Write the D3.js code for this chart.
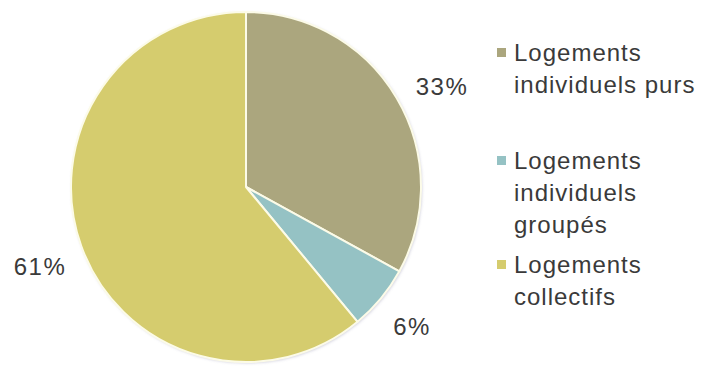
<!DOCTYPE html>
<html>
<head>
<meta charset="utf-8">
<script src="https://cdn.jsdelivr.net/npm/d3@7"></script>
<style>
body { margin: 0; background: #fff; }
text { font-family: "Liberation Sans", Arial, sans-serif; fill: #3a3a3a; }
</style>
</head>
<body>
<svg width="706" height="367"></svg>
<script>
var categories = ["Logements individuels purs", "Logements individuels groupés", "Logements collectifs"];
var values = [33, 6, 61];
var labels = ["33%", "6%", "61%"];
var colors = ["#aba67e", "#95c2c4", "#d5cc6e"];
// legend lines (wrapped like the original)
var legendLines = [["Logements", "individuels purs"], ["Logements", "individuels", "groupés"], ["Logements", "collectifs"]];

var svg = d3.select("svg");
var cx = 246, cy = 187, radius = 175;

var defs = svg.append("defs");
var f = defs.append("filter").attr("id", "shadow").attr("x", "-10%").attr("y", "-10%").attr("width", "120%").attr("height", "120%");
f.append("feDropShadow").attr("dx", 1).attr("dy", 1).attr("stdDeviation", 1.5)
  .attr("flood-color", "#8a86a8").attr("flood-opacity", 0.45);

var data = categories.map(function(c, i) { return {name: c, val: values[i], label: labels[i], color: colors[i]}; });

var pie = d3.pie().value(function(d) { return d.val; }).sort(null);
var arc = d3.arc().innerRadius(0).outerRadius(radius);

var g = svg.append("g").attr("transform", "translate(" + cx + "," + cy + ")");

g.append("circle").attr("r", radius).attr("fill", "#fff").attr("filter", "url(#shadow)");

var arcs = pie(data);
g.selectAll(".slice")
  .data(arcs)
  .enter()
  .append("path")
  .attr("class", "slice")
  .attr("d", arc)
  .attr("fill", function(d) { return d.data.color; })
  .attr("stroke", "#fcfbe8")
  .attr("stroke-width", 2)
  .attr("stroke-linejoin", "round");

// percent labels outside the pie
var labelPos = [[442, 86], [412, 326], [40, 266]];
svg.selectAll(".pct")
  .data(arcs)
  .enter()
  .append("text")
  .attr("class", "pct")
  .attr("x", function(d, i) { return labelPos[i][0]; })
  .attr("y", function(d, i) { return labelPos[i][1]; })
  .attr("text-anchor", "middle")
  .attr("dominant-baseline", "central")
  .style("font-size", "24px")
  .style("letter-spacing", "1.5px")
  .text(function(d) { return d.data.label; });

// legend
var legendTop = [52, 160, 264];
var lg = svg.append("g").attr("class", "legend");
data.forEach(function(d, i) {
  lg.append("rect")
    .attr("x", 497).attr("y", legendTop[i] - 4)
    .attr("width", 9).attr("height", 9)
    .attr("fill", d.color);
  legendLines[i].forEach(function(line, j) {
    lg.append("text")
      .attr("x", 514)
      .attr("y", legendTop[i] + j * 32)
      .attr("dominant-baseline", "central")
      .style("font-size", "24px")
      .style("letter-spacing", "1px")
      .text(line);
  });
});
</script>
</body>
</html>
